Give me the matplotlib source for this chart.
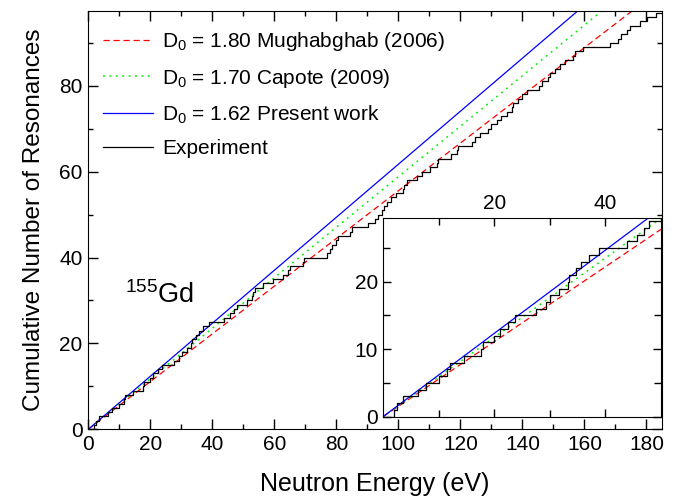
import numpy as np
import matplotlib
matplotlib.use('Agg')
import matplotlib.pyplot as plt
from matplotlib.ticker import MultipleLocator, FixedLocator

plt.rcParams['font.family'] = ['Liberation Sans', 'DejaVu Sans']
plt.rcParams['mathtext.fontset'] = 'custom'
plt.rcParams['mathtext.rm'] = 'Liberation Sans'
plt.rcParams['mathtext.it'] = 'Liberation Sans:italic'

# resonance energies (eV)
res_energy = [2.0, 2.57, 3.6, 6.3, 7.75, 10.0, 11.5, 12.0, 14.5, 17.7, 18.0, 20.0,
              21.0, 22.5, 23.7, 27.5, 29.3, 30.1, 31.7, 33.2, 33.5, 34.7, 35.6, 37.1,
              38.9, 43.9, 45.7, 46.9, 47.8, 51.1, 52.7, 53.2, 53.7, 56.4, 59.7, 62.9,
              64.5, 65.0, 69.1, 69.5, 76.9, 77.9, 78.5, 79.9, 80.6, 84.3, 84.9, 90.3,
              92.5, 93.5, 94.6, 95.3, 96.2, 97.6, 99.2, 101.6, 101.9, 102.7, 105.9,
              107.5, 110.1, 112.4, 112.9, 117.1, 118.8, 119.1, 123.6, 124.7, 126.3,
              129.0, 130.0, 131.7, 133.2, 134.9, 136.5, 137.0, 138.7, 139.8, 141.4,
              145.4, 146.2, 148.3, 148.8, 150.5, 152.1, 153.7, 156.4, 156.9, 159.6,
              168.2, 170.9, 171.9, 173.6, 174.6, 177.9, 180.1, 183.1]

# average level spacings D0 (eV)
d0_values = [1.80, 1.70, 1.62]
d0_labels = ['D$_\\mathregular{0}$ = 1.80 Mughabghab (2006)',
             'D$_\\mathregular{0}$ = 1.70 Capote (2009)',
             'D$_\\mathregular{0}$ = 1.62 Present work']
d0_colors = ['#ff0000', '#00ee00', '#0000ff']
d0_styles = [(0, (5, 3)), (0, (1.2, 3)), '-']
d0_widths = [0.9, 1.1, 0.9]

e_max = 185
step_x = np.concatenate([[0], res_energy, [e_max]])
step_y = np.concatenate([[0], np.arange(1, len(res_energy) + 1), [len(res_energy)]])
e_line = np.linspace(0, e_max, 400)

fig = plt.figure(figsize=(6.78, 4.97), dpi=100)
ax = fig.add_axes([0.1302, 0.1362, 0.8462, 0.8416])

for d0, lab, c, ls, lw in zip(d0_values, d0_labels, d0_colors, d0_styles, d0_widths):
    ax.plot(e_line, e_line / d0, color=c, ls=ls, lw=lw, label=lab)
ax.step(step_x, step_y, where='post', color='black', lw=0.9, label='Experiment')

ax.set_xlim(0, e_max)
ax.set_ylim(0, 97.4)
ax.xaxis.set_major_locator(MultipleLocator(20))
ax.xaxis.set_minor_locator(MultipleLocator(10))
ax.yaxis.set_major_locator(MultipleLocator(20))
ax.yaxis.set_minor_locator(MultipleLocator(10))
ax.tick_params(which='both', direction='in', top=True, right=True, labelsize=15)
ax.tick_params(which='major', length=7, width=1, pad=4)
ax.tick_params(which='minor', length=3.5, width=1)
ax.set_xlabel('Neutron Energy (eV)', fontsize=18, labelpad=13)
ax.set_ylabel('Cumulative Number of Resonances', fontsize=17.5, labelpad=10)
ax.text(11.8, 29.4, '$^{155}$Gd', fontsize=19.5)
ax.legend(loc='upper left', frameon=False, fontsize=15, handlelength=2.4,
          handletextpad=0.45, labelspacing=0.66, borderaxespad=0.3,
          bbox_to_anchor=(0.0, 0.99))

# inset: low-energy region
ins = fig.add_axes([0.5649, 0.1616, 0.4100, 0.4004])
e_in = np.linspace(0, 50, 200)
for d0, c, ls, lw in zip(d0_values, d0_colors, d0_styles, d0_widths):
    ins.plot(e_in, e_in / d0, color=c, ls=ls, lw=lw)
ins.step(step_x, step_y, where='post', color='black', lw=0.9)
ins.set_xlim(0, 50)
ins.set_ylim(0, 29.5)
ins.xaxis.set_major_locator(FixedLocator([20, 40]))
ins.xaxis.set_minor_locator(FixedLocator([10, 30]))
ins.yaxis.set_major_locator(MultipleLocator(10))
ins.yaxis.set_minor_locator(MultipleLocator(5))
ins.tick_params(which='both', direction='in', top=True, right=True, labelsize=15,
                labelbottom=False, labeltop=True)
ins.tick_params(which='major', length=6, width=1)
ins.tick_params(which='minor', length=5, width=1)

fig.savefig('out.png', dpi=100)
